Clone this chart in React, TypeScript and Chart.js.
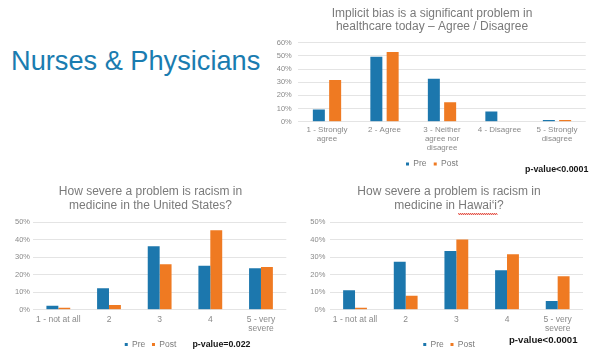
import React, { useEffect, useRef } from "react";
import { Chart, registerables } from "chart.js";

Chart.register(...registerables);

// ---------- data ----------
const topTitle = ["Implicit bias is a significant problem in", "healthcare today \u2013 Agree / Disagree"];
const topCategories = [["1 - Strongly", "agree"], "2 - Agree", ["3 - Neither", "agree nor", "disagree"], "4 - Disagree", ["5 - Strongly", "disagree"]];
const topPre = [9.3, 49.4, 32.7, 7.8, 1.3];
const topPost = [31.6, 52.9, 14.7, 0, 1.3];
const topTicksMax = 60;

const usTitle = ["How severe a problem is racism in", "medicine in the United States?"];
const hiTitle = ["How severe a problem is racism in", "medicine in Hawai\u2018i?"];
const severityCategories = ["1 - not at all", "2", "3", "4", ["5 - very", "severe"]];
const usPre = [2.3, 12.2, 36.3, 25.2, 23.7];
const usPost = [1.1, 2.7, 26.0, 45.4, 24.4];
const hiPre = [11.1, 27.5, 33.6, 22.5, 5.0];
const hiPost = [1.1, 8.0, 40.1, 31.7, 19.1];
const severityTicksMax = 50;

const seriesNames = ["Pre", "Post"];
const pValues = ["p-value<0.0001", "p-value=0.022", "p-value<0.0001"];
const mainTitle = "Nurses & Physicians";

// ---------- styles ----------
const FONT = '"Liberation Sans", Arial, Helvetica, sans-serif';
const PRE_COLOR = "#1c77ad";
const POST_COLOR = "#ef7a22";
const TITLE_COLOR = "#7a7a7a";
const TICK_COLOR = "#8a8a8a";
const GRID_COLOR = "#e4e4e4";

type Geo = {
  left: number; top: number; width: number; height: number;
  pl: number; pr: number; pb: number;
  yw: number; yPad: number; rw: number;
  titlePadTop: number; titlePadBottom: number; titleLH: number;
  xPad: number; xFont: number; xLH: number; xH: number;
  legendPad: number;
  catPct: number; barPct: number;
};

function wavyPlugin(word: string) {
  return {
    id: "wavy",
    afterDraw(chart: any) {
      const tb = chart.titleBlock;
      if (!tb) return;
      const opts = tb.options;
      const lines: string[] = opts.text;
      const line = lines[1];
      const idx = line.indexOf(word);
      if (idx < 0) return;
      const ctx = chart.ctx;
      ctx.save();
      const size = opts.font.size;
      ctx.font = `${size}px ${FONT}`;
      const full = ctx.measureText(line).width;
      const pre = ctx.measureText(line.slice(0, idx)).width;
      const w = ctx.measureText(word).width;
      const lh = size * opts.font.lineHeight;
      const cx = (tb.left + tb.right) / 2;
      const cy = tb.top + opts.padding.top + lh * 1.5;
      const x0 = cx - full / 2 + pre;
      const y = cy + 8;
      ctx.strokeStyle = "#e0392b";
      ctx.lineWidth = 0.9;
      ctx.beginPath();
      for (let i = 0; i <= Math.round(w); i += 1) {
        const yy = y + (i % 2 === 0 ? -0.8 : 0.8);
        if (i === 0) ctx.moveTo(x0 + i, yy); else ctx.lineTo(x0 + i, yy);
      }
      ctx.stroke();
      ctx.restore();
    },
  };
}

function makeConfig(g: Geo, title: string[], labels: any[], pre: number[], post: number[], yMax: number, plugins: any[]) {
  return {
    type: "bar" as const,
    data: {
      labels,
      datasets: [
        { label: seriesNames[0], data: pre, backgroundColor: PRE_COLOR, borderWidth: 0, categoryPercentage: g.catPct, barPercentage: g.barPct },
        { label: seriesNames[1], data: post, backgroundColor: POST_COLOR, borderWidth: 0, categoryPercentage: g.catPct, barPercentage: g.barPct },
      ],
    },
    plugins,
    options: {
      animation: false,
      responsive: false,
      maintainAspectRatio: false,
      devicePixelRatio: 1,
      layout: { padding: { left: g.pl, right: g.pr, top: 0, bottom: g.pb } },
      plugins: {
        title: {
          display: true,
          text: title,
          color: TITLE_COLOR,
          font: { family: FONT, size: 12, weight: "normal", lineHeight: g.titleLH },
          padding: { top: g.titlePadTop, bottom: g.titlePadBottom },
        },
        legend: {
          position: "bottom",
          labels: {
            boxWidth: 3,
            boxHeight: 3,
            padding: g.legendPad,
            color: TITLE_COLOR,
            font: { family: FONT, size: 8.5 },
          },
        },
        tooltip: { enabled: false },
      },
      scales: {
        x: {
          grid: { display: false, drawTicks: false },
          border: { display: false },
          ticks: {
            padding: g.xPad,
            color: TICK_COLOR,
            maxRotation: 0,
            autoSkip: false,
            font: { family: FONT, size: g.xFont, lineHeight: g.xLH },
          },
          afterFit: (s: any) => { s.height = g.xH; },
        },
        y: {
          min: 0,
          max: yMax,
          grid: { color: GRID_COLOR, lineWidth: 1, drawTicks: false },
          border: { display: false },
          ticks: {
            stepSize: 10,
            padding: g.yPad,
            color: TICK_COLOR,
            font: { family: FONT, size: 7.5 },
            callback: (v: any) => `${v}%`,
          },
          afterFit: (s: any) => { s.width = g.yw; },
        },
        yRight: {
          type: "linear",
          position: "right",
          display: true,
          grid: { display: false, drawTicks: false },
          border: { display: false },
          ticks: { display: false },
          afterFit: (s: any) => { s.width = g.rw; },
        },
      },
    },
  };
}

function ChartBox({ g, config }: { g: Geo; config: any }) {
  const ref = useRef<HTMLCanvasElement | null>(null);
  useEffect(() => {
    if (!ref.current) return;
    const chart = new Chart(ref.current, config);
    return () => chart.destroy();
  }, []);
  return (
    <div style={{ position: "absolute", left: g.left, top: g.top, width: g.width, height: g.height }}>
      <canvas ref={ref} width={g.width} height={g.height} style={{ width: g.width, height: g.height, display: "block" }} />
    </div>
  );
}

const topGeo: Geo = {
  left: 270, top: 0, width: 326, height: 180,
  pl: 2.25, pr: 4.25, pb: 1.75, yw: 26, yPad: 6.5, rw: 6,
  titlePadTop: 7.5, titlePadBottom: 9.2, titleLH: 13 / 12,
  xPad: 3.8, xFont: 8, xLH: 9 / 8, xH: 30.8,
  legendPad: 7.25,
  catPct: 0.567, barPct: 0.736,
};

const usGeo: Geo = {
  left: 0, top: 175, width: 300, height: 185,
  pl: 10.7, pr: 9.7, pb: 1.25, yw: 22.3, yPad: 3, rw: 4,
  titlePadTop: 10, titlePadBottom: 9.3, titleLH: 14 / 12,
  xPad: 5.8, xFont: 8.5, xLH: 9 / 8.5, xH: 23.8,
  legendPad: 6.75,
  catPct: 0.47, barPct: 1.0,
};

const hiGeo: Geo = {
  left: 296, top: 175, width: 300, height: 185,
  pl: 13, pr: 7, pb: 1.25, yw: 20.7, yPad: 4.4, rw: 6,
  titlePadTop: 10, titlePadBottom: 9.3, titleLH: 14 / 12,
  xPad: 5.8, xFont: 8.5, xLH: 9 / 8.5, xH: 23.8,
  legendPad: 6.75,
  catPct: 0.47, barPct: 1.0,
};

function PText({ text, left, top, size }: { text: string; left: number; top: number; size: number }) {
  return (
    <div style={{ position: "absolute", left, top, fontFamily: FONT, fontWeight: "bold", fontSize: size, lineHeight: `${size}px`, color: "#161616", whiteSpace: "nowrap" }}>
      {text}
    </div>
  );
}

export default function App() {
  return (
    <div style={{ position: "fixed", left: 0, top: 0, width: 596, height: 354, overflow: "hidden", background: "#ffffff" }}>
      <div style={{ position: "absolute", left: 11, top: 47, fontFamily: FONT, fontSize: 27.2, lineHeight: "27.2px", color: "#1a7cb0", whiteSpace: "nowrap" }}>
        {mainTitle}
      </div>
      <ChartBox g={topGeo} config={makeConfig(topGeo, topTitle, topCategories, topPre, topPost, topTicksMax, [])} />
      <ChartBox g={usGeo} config={makeConfig(usGeo, usTitle, severityCategories, usPre, usPost, severityTicksMax, [])} />
      <ChartBox g={hiGeo} config={makeConfig(hiGeo, hiTitle, severityCategories, hiPre, hiPost, severityTicksMax, [wavyPlugin("Hawai\u2018i")])} />
      <PText text={pValues[0]} left={525} top={165.1} size={8.9} />
      <PText text={pValues[1]} left={192.5} top={339.7} size={8.8} />
      <PText text={pValues[2]} left={509} top={334.8} size={9.6} />
    </div>
  );
}
